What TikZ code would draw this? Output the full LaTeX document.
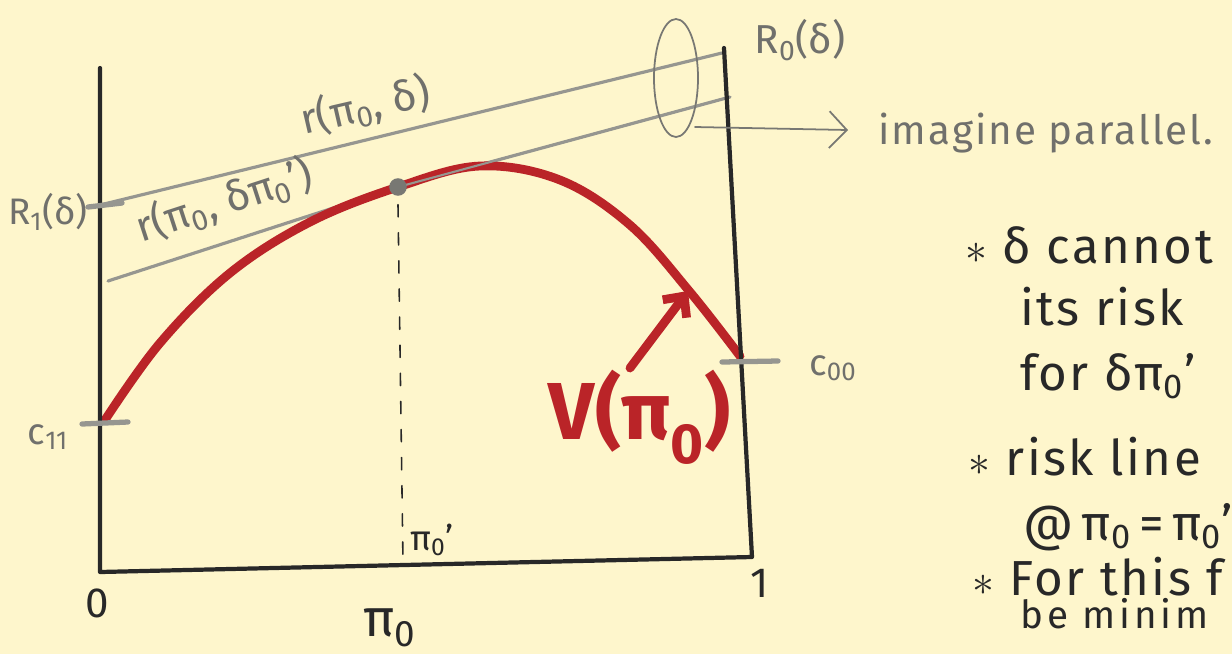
\documentclass[tikz,border=0pt]{standalone}
\usepackage{fontspec}
\setmainfont{Fira Sans}
\usetikzlibrary{arrows.meta}
\definecolor{paper}{RGB}{254,246,204}
\definecolor{ink}{RGB}{40,40,40}
\definecolor{pencil}{RGB}{150,150,144}
\definecolor{marker}{RGB}{186,36,40}
\newcommand{\bullstar}{{\fontsize{38}{38}\selectfont$\ast$}}
\tikzset{
	axisline/.style={ink, line width=2.4pt},
	riskline/.style={pencil, line width=1.8pt},
	tickmark/.style={pencil, line width=3pt},
	lbl/.style={pencil!75!black, font=\fontsize{21}{21}\selectfont, inner sep=0pt},
	inklbl/.style={ink, font=\fontsize{24}{24}\selectfont, inner sep=0pt},
	note/.style={ink, font=\fontsize{28}{28}\selectfont\addfontfeature{LetterSpace=5}, anchor=base west, inner sep=0pt},
}
\begin{document}
\begin{tikzpicture}[line join=round, line cap=round, x=0.02cm, y=-0.02cm]
			\fill[paper] (0,0) rectangle (1232,654);
			\clip (0,0) rectangle (1232,654);
			\coordinate (T0)  at (100, 68);
			\coordinate (O)   at (100, 572);
			\coordinate (E)   at (752, 557);
			\coordinate (T1)  at (724, 48);
			\coordinate (R1)  at (100, 205);
			\coordinate (R0)  at (722, 53);
			\coordinate (S1)  at (108, 281);
			\coordinate (S0)  at (730, 97);
			\coordinate (P)   at (398, 187);
			\coordinate (P')  at (403, 563);
			\coordinate (Ra)  at (88, 207);
			\coordinate (Rb)  at (122, 203);
			\coordinate (Ca)  at (82, 424);
			\coordinate (Cb)  at (128, 422);
			\coordinate (Da)  at (722, 362);
			\coordinate (Db)  at (778, 361);
			\coordinate (Ring) at (676, 78);
			\coordinate (Rs)  at (695, 127);
			\coordinate (Re)  at (848, 130);
			\coordinate (Vt)  at (630, 368);
			\coordinate (Vh)  at (688, 291);
			\draw[riskline] (R1) -- (R0);
			\draw[riskline] (S1) -- (P) -- (S0);
			\draw[marker, line width=5pt] plot[smooth, tension=0.6] coordinates {(105,420) (160,343) (230,273) (310,222) (398,187) (480,166) (560,180) (630,225) (690,292) (740,356)};
			\draw[riskline, line width=1.2pt] (P) -- (S0);
			\fill[pencil!80!black] (P) circle (5pt);
			\draw[ink, line width=0.9pt, dash pattern=on 7pt off 9pt] ([yshift=-10pt]P) -- (P');
			\draw[axisline] (T0) -- (O) -- (E) -- (T1);
			\draw[tickmark] (Ra) -- (Rb) (Ca) -- (Cb) (Da) -- (Db);
			\draw[pencil!80!black, line width=1pt] (Ring) ellipse [x radius=22, y radius=59];
			\draw[pencil!80!black, line width=1pt, -{Straight Barb[length=10pt, width=21pt]}] (Rs) -- (Re);
			\draw[marker, line width=5pt, -{Straight Barb[length=9pt, width=17pt]}] (Vt) -- (Vh);
			\node[lbl, font=\fontsize{23}{23}\selectfont] (r0) at (800, 40) {R\textsubscript{0}(δ)};
			\node[lbl] (r1) at (48, 212) {R\textsubscript{1}(δ)};
			\node[lbl, font=\fontsize{24}{24}\selectfont, rotate=13] (rdelta) at (365, 106) {r(π\textsubscript{0}, δ)};
			\node[lbl, font=\fontsize{24}{24}\selectfont, rotate=18] (rpi) at (224, 201) {r(π\textsubscript{0}, δπ\textsubscript{0}')};
			\node[lbl] (c11) at (48, 437) {c\textsubscript{11}};
			\node[lbl] (c00) at (833, 368) {c\textsubscript{00}};
			\node[lbl, anchor=west, font=\fontsize{23}{23}\selectfont\addfontfeature{LetterSpace=5}] (imag) at (878, 133) {imagine parallel.};
			\node[inklbl] (zero) at (97, 603) {0};
			\node[inklbl] (one) at (760, 583) {1};
			\node[inklbl, font=\fontsize{30}{30}\selectfont] (pi0) at (390, 628) {π\textsubscript{0}};
			\node[inklbl, font=\fontsize{20}{20}\selectfont] (pi0p) at (432, 540) {π\textsubscript{0}'};
			\node[marker, font=\bfseries\fontsize{46}{46}\selectfont, inner sep=0pt] (vlbl) at (640, 417) {V(π\textsubscript{0})};
			\node[note] (n1) at (965, 263) {\bullstar\ δ cannot};
			\node[note] (n2) at (1020, 325) {its risk};
			\node[note] (n3) at (1020, 390) {for δπ\textsubscript{0}'};
			\node[note] (n4) at (968, 475) {\bullstar\ risk line};
			\node[note, font=\fontsize{28}{28}\selectfont] (n5) at (1023, 540) {@\,π\textsubscript{0}\,=\,π\textsubscript{0}'};
			\node[note] (n6) at (972, 595) {\bullstar\ For this f};
			\node[note, font=\fontsize{22}{22}\selectfont\addfontfeature{LetterSpace=10}] (n7) at (1020, 628) {be minim};
		\end{tikzpicture}
\end{document}
